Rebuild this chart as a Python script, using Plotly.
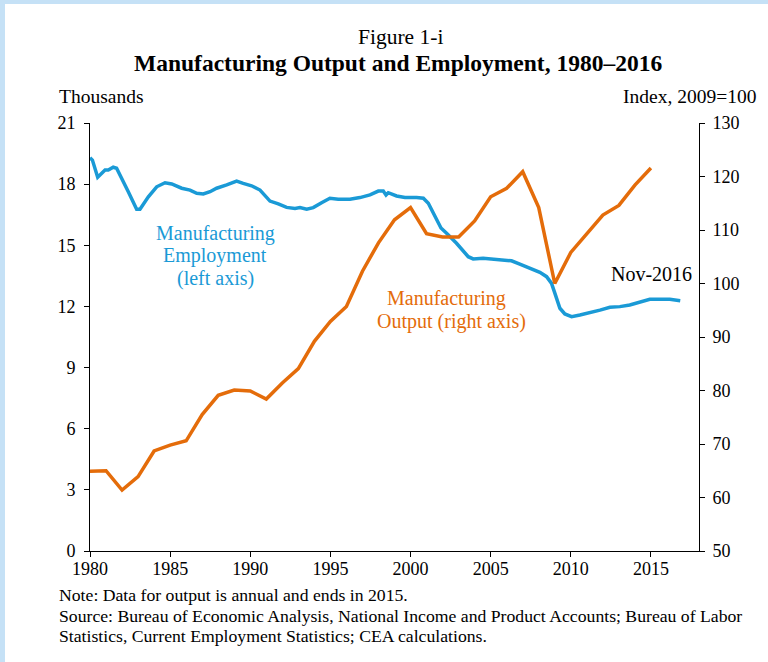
import plotly.graph_objects as go

# Manufacturing output (index, 2009=100), annual, right axis
OUT_YEARS = list(range(1980, 2016))
OUT_VALUES = [64.9, 65.0, 61.4, 63.9, 68.7, 69.8, 70.6, 75.5, 79.1, 80.1, 79.9, 78.4,
              81.4, 84.1, 89.2, 92.9, 95.7, 102.3, 107.6, 111.9, 114.2, 109.3, 108.7,
              108.7, 111.7, 116.2, 117.8, 120.9, 114.2, 100.0, 105.8, 109.3, 112.8,
              114.6, 118.4, 121.6]

# Manufacturing employment (thousands as labelled), readings through Nov 2016, left axis
EMP_YEARS = [1980.0, 1980.15, 1980.48, 1980.94, 1981.14, 1981.45, 1981.66, 1981.98,
             1982.39, 1982.91, 1983.12, 1983.64, 1984.16, 1984.68, 1985.10, 1985.72,
             1986.24, 1986.66, 1987.07, 1987.49, 1987.90, 1988.53, 1989.15, 1989.56,
             1990.08, 1990.61, 1991.23, 1991.75, 1992.27, 1992.79, 1993.10, 1993.52,
             1993.93, 1994.45, 1994.97, 1995.49, 1996.22, 1996.84, 1997.47, 1997.99,
             1998.30, 1998.47, 1998.61, 1999.13, 1999.65, 2000.38, 2000.80, 2001.11,
             2001.52, 2001.90, 2002.25, 2002.87, 2003.60, 2003.91, 2004.53, 2005.16,
             2005.78, 2006.30, 2006.82, 2007.45, 2008.07, 2008.49, 2008.80, 2009.01,
             2009.32, 2009.63, 2010.05, 2010.57, 2011.19, 2011.82, 2012.44, 2013.06,
             2013.68, 2014.31, 2014.93, 2015.56, 2016.18, 2016.83]
EMP_VALUES = [19.30, 19.18, 18.34, 18.69, 18.69, 18.83, 18.78, 18.29,
              17.63, 16.77, 16.77, 17.38, 17.87, 18.07, 18.01, 17.80,
              17.71, 17.55, 17.52, 17.63, 17.80, 17.96, 18.15, 18.04,
              17.92, 17.71, 17.17, 17.03, 16.86, 16.81, 16.85, 16.77,
              16.85, 17.09, 17.31, 17.26, 17.26, 17.34, 17.47, 17.66,
              17.66, 17.47, 17.58, 17.42, 17.34, 17.35, 17.31, 17.06,
              16.40, 15.85, 15.59, 15.10, 14.44, 14.33, 14.36, 14.31,
              14.24, 14.24, 14.08, 13.87, 13.67, 13.46, 13.13, 12.64,
              11.91, 11.63, 11.50, 11.58, 11.69, 11.82, 11.96, 11.99,
              12.07, 12.20, 12.35, 12.35, 12.35, 12.28]

LEFT_TICKS = [0, 3, 6, 9, 12, 15, 18, 21]
RIGHT_TICKS = [50, 60, 70, 80, 90, 100, 110, 120, 130]
X_TICKS = [1980, 1985, 1990, 1995, 2000, 2005, 2010, 2015]

BLUE = "#1a9ad6"
ORANGE = "#e46c0a"
FONT = "Liberation Serif, Times New Roman, serif"

fig = go.Figure()
fig.add_trace(go.Scatter(x=OUT_YEARS, y=OUT_VALUES, yaxis="y2", mode="lines",
                         line=dict(color=ORANGE, width=3.5), showlegend=False))
fig.add_trace(go.Scatter(x=EMP_YEARS, y=EMP_VALUES, mode="lines",
                         line=dict(color=BLUE, width=3.5), showlegend=False))

axis_common = dict(showgrid=False, zeroline=False, showline=True, linecolor="black",
                   linewidth=1, ticks="outside", ticklen=5, tickcolor="black",
                   tickfont=dict(family=FONT, size=18, color="black"))

fig.update_layout(
    width=768, height=662,
    margin=dict(l=90, r=69, t=123, b=111),
    paper_bgcolor="white", plot_bgcolor="white",
    font=dict(family=FONT, color="black"),
    xaxis=dict(range=[1980, 2018], tickvals=X_TICKS, ticklabelstandoff=-4, **axis_common),
    yaxis=dict(range=[0, 21], tickvals=LEFT_TICKS, ticklabelstandoff=5, **axis_common),
    yaxis2=dict(range=[50, 130], tickvals=RIGHT_TICKS, overlaying="y", side="right",
                anchor="x", ticklabelstandoff=4, **axis_common),
)

W, H = 609.0, 428.0
def px(x):
    return (x - 90) / W
def py(y):
    return (551 - y) / H

annos = [
    ("Figure 1-i", 400, 37, 21.5, "center", "black"),
    ("<b>Manufacturing Output and Employment, 1980–2016</b>", 398, 63, 23.5, "center", "black"),
    ("Thousands", 57, 97, 19.5, "left", "black"),
    ("Index, 2009=100", 758, 97, 19.5, "right", "black"),
    ("Note: Data for output is annual and ends in 2015.", 57, 595, 17.7, "left", "black"),
    ("Source: Bureau of Economic Analysis, National Income and Product Accounts; Bureau of Labor", 57, 616, 17.7, "left", "black"),
    ("Statistics, Current Employment Statistics; CEA calculations.", 57, 636, 17.7, "left", "black"),
    ("Manufacturing", 215, 233, 20, "center", BLUE),
    ("Employment", 215, 256, 20, "center", BLUE),
    ("(left axis)", 215, 278, 20, "center", BLUE),
    ("Manufacturing", 447, 298, 20, "center", ORANGE),
    ("Output (right axis)", 451, 321, 20, "center", ORANGE),
    ("Nov-2016", 694, 274, 20, "right", "black"),
]
for text, x, y, size, anchor, color in annos:
    fig.add_annotation(text=text, x=px(x), y=py(y), xref="paper", yref="paper",
                       xanchor=anchor, yanchor="middle", showarrow=False,
                       font=dict(family=FONT, size=size, color=color))

# light blue frame strips (top and left edges)
fig.add_shape(type="rect", xref="paper", yref="paper", x0=px(0), x1=px(768), y0=py(4), y1=py(0),
              fillcolor="#c5e1f6", line=dict(width=0), layer="above")
fig.add_shape(type="rect", xref="paper", yref="paper", x0=px(0), x1=px(5), y0=py(662), y1=py(0),
              fillcolor="#c5e1f6", line=dict(width=0), layer="above")

fig.write_html("out.html", config={"displayModeBar": False},
               post_script="document.body.style.margin='0px';")
